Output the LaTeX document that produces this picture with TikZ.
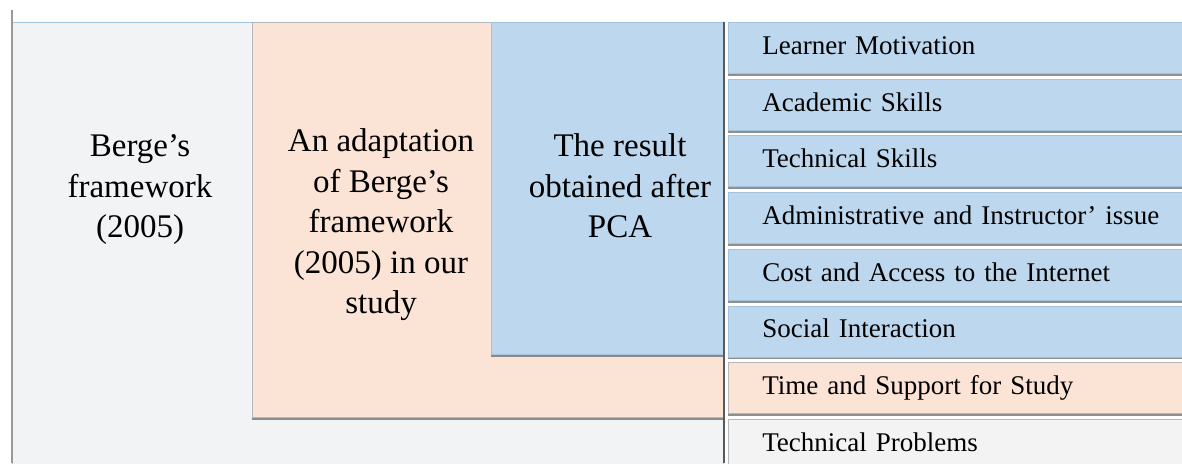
\documentclass[tikz,border=0pt]{standalone}
\usepackage{xcolor}
\usepackage{fontspec}
\setmainfont{Liberation Serif}
\usepackage{tikz}
\usetikzlibrary{positioning,shadows}
\definecolor{panelgray}{HTML}{F2F3F5}
\definecolor{panelpeach}{HTML}{FBE4D6}
\definecolor{panelblue}{HTML}{BDD7EE}
\definecolor{itemgray}{HTML}{F3F3F3}
\definecolor{edgeblue}{HTML}{A3C2DE}
\definecolor{edgegray}{HTML}{B4B8BD}
\tikzset{
  fw/panel/.style={anchor=north west, inner sep=0pt, outer sep=0pt, draw=edgegray, line width=0.6pt},
  fw/shadowed/.style={drop shadow={shadow xshift=0pt, shadow yshift=-2.5pt, fill=black!55, opacity=0.8}},
  fw/bigtext/.style={align=center, inner sep=0pt, font=\fontsize{33}{40.5}\selectfont},
  fw/item/.style={fw/shadowed, draw=edgeblue, line width=0.6pt, minimum height=51pt, text width=420pt,
    inner xsep=34pt, inner ysep=0pt, align=left, text height=19pt, text depth=6pt,
    font=\fontsize{27}{33}\selectfont},
  fw/itemblue/.style={fw/item, fill=panelblue},
  fw/itempeach/.style={fw/item, fill=panelpeach, draw=edgegray},
  fw/itemgray/.style={fw/item, fill=itemgray, draw=edgegray},
  fw/divider/.style={draw=black!65, line width=2pt}
}
\begin{document}
\begin{tikzpicture}[x=1pt, y=-1pt, node distance=5.1pt]
\clip (0,0) rectangle (1182,463);
\fill[white] (0,0) rectangle (1182,463);
% nested panels
\node[fw/panel, fill=panelgray, draw=edgeblue, minimum width=711pt, minimum height=460pt] (gray) at (12,22) {};
\node[fw/panel, fw/shadowed, fill=panelpeach, minimum width=471pt, minimum height=395pt] (peach) at (252,22) {};
\node[fw/panel, fw/shadowed, fill=panelblue, draw=edgeblue, minimum width=232pt, minimum height=332pt] (blue) at (491,22) {};
\node[fw/bigtext] (bergetext) at (140,190) {Berge's\\framework\\(2005)};
\node[fw/bigtext] (peachtext) at (381,225) {An adaptation\\of Berge's\\framework\\(2005) in our\\study};
\node[fw/bigtext] (bluetext) at (620,186) {The result\\obtained after\\PCA};
% left edge and divider
\coordinate (edgetop) at (12,10);
\coordinate (edgebot) at (12,463);
\draw[black!40, line width=1.5pt] (edgetop) -- (edgebot);
\coordinate (divtop) at (724,22);
\coordinate (divbot) at (724,463);
\draw[fw/divider] (divtop) -- (divbot);
% factor list
\node[fw/itemblue, anchor=north west] (motiv) at (728,22) {Learner Motivation};
\node[fw/itemblue, below=of motiv] (acad) {Academic Skills};
\node[fw/itemblue, below=of acad] (techskill) {Technical Skills};
\node[fw/itemblue, below=of techskill] (admin) {Administrative and Instructor' issue};
\node[fw/itemblue, below=of admin] (cost) {Cost and Access to the Internet};
\node[fw/itemblue, below=of cost] (social) {Social Interaction};
\node[fw/itempeach, below=of social] (time) {Time and Support for Study};
\node[fw/itemgray, below=of time] (techprob) {Technical Problems};
\end{tikzpicture}
\end{document}
